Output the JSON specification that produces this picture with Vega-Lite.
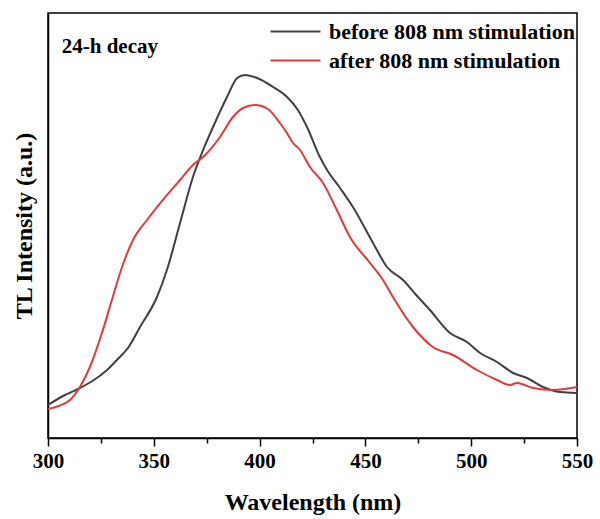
{
  "$schema": "https://vega.github.io/schema/vega-lite/v6.json",
  "autosize": "none",
  "width": 529,
  "height": 425,
  "padding": {"left": 48, "top": 13, "right": 23, "bottom": 81},
  "background": "white",
  "config": {
    "view": {"stroke": "black", "strokeWidth": 1.5},
    "font": "Liberation Serif"
  },
  "datasets": {
    "spectra": [
      {"wl": 300.0, "I": 33, "s": "before 808 nm stimulation"},
      {"wl": 307.1, "I": 42, "s": "before 808 nm stimulation"},
      {"wl": 315.1, "I": 50, "s": "before 808 nm stimulation"},
      {"wl": 321.0, "I": 57, "s": "before 808 nm stimulation"},
      {"wl": 327.9, "I": 68, "s": "before 808 nm stimulation"},
      {"wl": 333.0, "I": 79, "s": "before 808 nm stimulation"},
      {"wl": 337.8, "I": 90, "s": "before 808 nm stimulation"},
      {"wl": 343.5, "I": 111, "s": "before 808 nm stimulation"},
      {"wl": 351.5, "I": 141, "s": "before 808 nm stimulation"},
      {"wl": 356.2, "I": 168, "s": "before 808 nm stimulation"},
      {"wl": 362.4, "I": 215, "s": "before 808 nm stimulation"},
      {"wl": 368.5, "I": 261, "s": "before 808 nm stimulation"},
      {"wl": 373.3, "I": 288, "s": "before 808 nm stimulation"},
      {"wl": 378.0, "I": 311, "s": "before 808 nm stimulation"},
      {"wl": 384.6, "I": 341, "s": "before 808 nm stimulation"},
      {"wl": 389.4, "I": 360, "s": "before 808 nm stimulation"},
      {"wl": 393.1, "I": 363, "s": "before 808 nm stimulation"},
      {"wl": 398.8, "I": 360, "s": "before 808 nm stimulation"},
      {"wl": 406.4, "I": 351, "s": "before 808 nm stimulation"},
      {"wl": 413.0, "I": 341, "s": "before 808 nm stimulation"},
      {"wl": 418.1, "I": 328, "s": "before 808 nm stimulation"},
      {"wl": 422.4, "I": 311, "s": "before 808 nm stimulation"},
      {"wl": 428.5, "I": 281, "s": "before 808 nm stimulation"},
      {"wl": 431.9, "I": 268, "s": "before 808 nm stimulation"},
      {"wl": 438.0, "I": 250, "s": "before 808 nm stimulation"},
      {"wl": 444.1, "I": 231, "s": "before 808 nm stimulation"},
      {"wl": 453.6, "I": 195, "s": "before 808 nm stimulation"},
      {"wl": 460.2, "I": 171, "s": "before 808 nm stimulation"},
      {"wl": 467.8, "I": 158, "s": "before 808 nm stimulation"},
      {"wl": 474.0, "I": 143, "s": "before 808 nm stimulation"},
      {"wl": 480.5, "I": 128, "s": "before 808 nm stimulation"},
      {"wl": 490.0, "I": 105, "s": "before 808 nm stimulation"},
      {"wl": 498.0, "I": 96, "s": "before 808 nm stimulation"},
      {"wl": 504.2, "I": 85, "s": "before 808 nm stimulation"},
      {"wl": 512.2, "I": 76, "s": "before 808 nm stimulation"},
      {"wl": 519.8, "I": 65, "s": "before 808 nm stimulation"},
      {"wl": 526.4, "I": 60, "s": "before 808 nm stimulation"},
      {"wl": 533.9, "I": 51, "s": "before 808 nm stimulation"},
      {"wl": 542.0, "I": 46, "s": "before 808 nm stimulation"},
      {"wl": 550.0, "I": 45, "s": "before 808 nm stimulation"},
      {"wl": 300.0, "I": 29, "s": "after 808 nm stimulation"},
      {"wl": 305.0, "I": 32, "s": "after 808 nm stimulation"},
      {"wl": 310.4, "I": 38, "s": "after 808 nm stimulation"},
      {"wl": 315.1, "I": 51, "s": "after 808 nm stimulation"},
      {"wl": 319.8, "I": 71, "s": "after 808 nm stimulation"},
      {"wl": 325.5, "I": 105, "s": "after 808 nm stimulation"},
      {"wl": 330.2, "I": 138, "s": "after 808 nm stimulation"},
      {"wl": 335.0, "I": 171, "s": "after 808 nm stimulation"},
      {"wl": 340.2, "I": 198, "s": "after 808 nm stimulation"},
      {"wl": 346.8, "I": 218, "s": "after 808 nm stimulation"},
      {"wl": 354.3, "I": 238, "s": "after 808 nm stimulation"},
      {"wl": 362.4, "I": 258, "s": "after 808 nm stimulation"},
      {"wl": 368.5, "I": 273, "s": "after 808 nm stimulation"},
      {"wl": 373.3, "I": 281, "s": "after 808 nm stimulation"},
      {"wl": 381.3, "I": 301, "s": "after 808 nm stimulation"},
      {"wl": 387.4, "I": 321, "s": "after 808 nm stimulation"},
      {"wl": 392.2, "I": 330, "s": "after 808 nm stimulation"},
      {"wl": 397.8, "I": 333, "s": "after 808 nm stimulation"},
      {"wl": 403.9, "I": 329, "s": "after 808 nm stimulation"},
      {"wl": 409.6, "I": 315, "s": "after 808 nm stimulation"},
      {"wl": 412.9, "I": 305, "s": "after 808 nm stimulation"},
      {"wl": 415.8, "I": 295, "s": "after 808 nm stimulation"},
      {"wl": 419.1, "I": 288, "s": "after 808 nm stimulation"},
      {"wl": 423.8, "I": 271, "s": "after 808 nm stimulation"},
      {"wl": 430.0, "I": 255, "s": "after 808 nm stimulation"},
      {"wl": 436.5, "I": 228, "s": "after 808 nm stimulation"},
      {"wl": 442.7, "I": 201, "s": "after 808 nm stimulation"},
      {"wl": 452.2, "I": 175, "s": "after 808 nm stimulation"},
      {"wl": 458.3, "I": 158, "s": "after 808 nm stimulation"},
      {"wl": 463.0, "I": 141, "s": "after 808 nm stimulation"},
      {"wl": 472.5, "I": 111, "s": "after 808 nm stimulation"},
      {"wl": 481.9, "I": 91, "s": "after 808 nm stimulation"},
      {"wl": 491.4, "I": 83, "s": "after 808 nm stimulation"},
      {"wl": 502.7, "I": 68, "s": "after 808 nm stimulation"},
      {"wl": 512.2, "I": 58, "s": "after 808 nm stimulation"},
      {"wl": 518.3, "I": 53, "s": "after 808 nm stimulation"},
      {"wl": 521.6, "I": 55, "s": "after 808 nm stimulation"},
      {"wl": 529.2, "I": 50, "s": "after 808 nm stimulation"},
      {"wl": 538.7, "I": 48, "s": "after 808 nm stimulation"},
      {"wl": 550.0, "I": 51, "s": "after 808 nm stimulation"}
    ],
    "note": [{"wl": 306.5, "I": 391, "label": "24-h decay"}]
  },
  "layer": [
    {
      "data": {"name": "spectra"},
      "mark": {"type": "line", "strokeWidth": 2, "interpolate": "monotone", "clip": true},
      "encoding": {
        "x": {
          "field": "wl", "type": "quantitative",
          "scale": {"domain": [300, 550], "nice": false, "zero": false},
          "axis": {
            "title": "Wavelength (nm)",
            "values": [300, 325, 350, 375, 400, 425, 450, 475, 500, 525, 550],
            "labelExpr": "datum.value % 50 === 0 ? datum.label : ''",
            "grid": false,
            "domainColor": "black", "domainWidth": 1.5,
            "tickColor": "black", "tickWidth": 1.5,
            "tickSize": {"condition": {"test": "datum.value % 50 === 0", "value": 8}, "value": 5},
            "labelFont": "Liberation Serif", "labelFontWeight": "bold", "labelFontSize": 21,
            "labelColor": "black", "labelPadding": 4, "labelFlush": false,
            "titleFont": "Liberation Serif", "titleFontWeight": "bold", "titleFontSize": 24,
            "titleColor": "black", "titlePadding": 19
          }
        },
        "y": {
          "field": "I", "type": "quantitative",
          "scale": {"domain": [0, 425], "nice": false, "zero": true},
          "axis": {
            "title": "TL Intensity (a.u.)",
            "labels": false, "ticks": false, "grid": false,
            "domainColor": "black", "domainWidth": 1.5,
            "titleFont": "Liberation Serif", "titleFontWeight": "bold", "titleFontSize": 24,
            "titleColor": "black", "titlePadding": 12
          }
        },
        "color": {
          "field": "s", "type": "nominal",
          "scale": {
            "domain": ["before 808 nm stimulation", "after 808 nm stimulation"],
            "range": ["#404040", "#e2393c"]
          },
          "legend": {
            "title": null,
            "orient": "none",
            "legendX": 234,
            "legendY": 5,
            "symbolType": "M-2,0H2",
            "symbolSize": 625,
            "symbolStrokeWidth": 2,
            "symbolFillColor": "transparent",
            "labelFont": "Liberation Serif", "labelFontWeight": "bold", "labelFontSize": 22,
            "labelColor": "black", "labelOffset": 20, "labelLimit": 400,
            "rowPadding": 4
          }
        }
      }
    },
    {
      "data": {"name": "note"},
      "mark": {"type": "text", "align": "left", "baseline": "middle", "font": "Liberation Serif", "fontWeight": "bold", "fontSize": 21, "color": "black"},
      "encoding": {
        "x": {"field": "wl", "type": "quantitative"},
        "y": {"field": "I", "type": "quantitative"},
        "text": {"field": "label"}
      }
    }
  ]
}
